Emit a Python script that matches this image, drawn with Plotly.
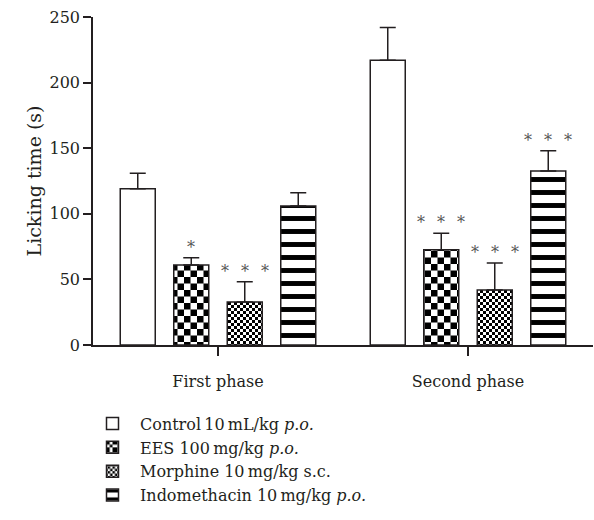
import plotly.graph_objects as go

phases = ["First phase", "Second phase"]
groups = [
    "Control\u200910\u2009mL/kg <i>p.o.</i>",
    "EES 100\u2009mg/kg <i>p.o.</i>",
    "Morphine 10\u2009mg/kg s.c.",
    "Indomethacin 10\u2009mg/kg <i>p.o.</i>",
]
means = [
    [119, 217],
    [61, 72.6],
    [32.8, 42],
    [106, 132.6],
]
sems = [
    [12, 25],
    [5.5, 12.5],
    [15.5, 20.5],
    [10, 15.5],
]
SEP = "\u2002\u2005"
stars = [
    ["", ""],
    ["*", SEP.join("***")],
    [SEP.join("***"), SEP.join("***")],
    ["", SEP.join("***")],
]

INK = "#231f20"
FONT = "DejaVu Serif"
SLOT = 0.214
WIDTH = 0.14

def checker(size):
    h = size / 2
    return f"M0,0H{h}V{h}H0ZM{h},{h}H{size}V{size}H{h}Z"

patterns = [
    dict(shape=""),
    dict(path=checker(13), size=13, fgcolor="black", bgcolor="white", fillmode="replace"),
    dict(path=checker(6), size=6, fgcolor="black", bgcolor="white", fillmode="replace"),
    dict(shape="-", size=13, solidity=0.38, fgcolor="black", bgcolor="white", fillmode="replace"),
]

xs = list(range(len(phases)))
fig = go.Figure()
for i, name in enumerate(groups):
    off = (i - 1.5) * SLOT
    fig.add_trace(go.Bar(
        x=xs, y=means[i], name=name,
        width=WIDTH, offset=off - WIDTH / 2,
        marker=dict(color="white", line=dict(color=INK, width=1.5), pattern=patterns[i]),
        error_y=dict(type="data", symmetric=False, array=sems[i], arrayminus=[0] * len(xs),
                     color=INK, thickness=1.5, width=8),
    ))
    for j, s in enumerate(stars[i]):
        if s:
            fig.add_annotation(x=xs[j] + off, y=means[i][j] + sems[i][j], text=s,
                               showarrow=False, yanchor="bottom", yshift=-1,
                               font=dict(family=FONT, size=16, color="#555"))

fig.update_layout(
    width=594, height=520,
    margin=dict(l=93, r=1, t=17, b=175),
    paper_bgcolor="white", plot_bgcolor="white",
    barmode="overlay",
    font=dict(family=FONT, size=16, color=INK),
    showlegend=True,
    legend=dict(x=-0.016, y=-0.188, xanchor="left", yanchor="top", font=dict(family=FONT, size=16, color=INK),
                traceorder="normal", bgcolor="rgba(0,0,0,0)", itemwidth=45, tracegroupgap=0),
    xaxis=dict(range=[-0.5, 1.5], tickvals=xs, ticktext=phases, showline=True, linecolor=INK, linewidth=1.5,
               ticks="outside", ticklen=9, tickwidth=1.5, tickcolor=INK, showgrid=False, zeroline=False,
               ticklabelstandoff=12),
    yaxis=dict(range=[0, 250], tickvals=[0, 50, 100, 150, 200, 250], showline=True, linecolor=INK, linewidth=1.5,
               ticks="outside", ticklen=8, tickwidth=1.5, tickcolor=INK, showgrid=False, zeroline=False,
               title=dict(text="Licking time (s)", standoff=3)),
)

fig.write_html("out.html")
